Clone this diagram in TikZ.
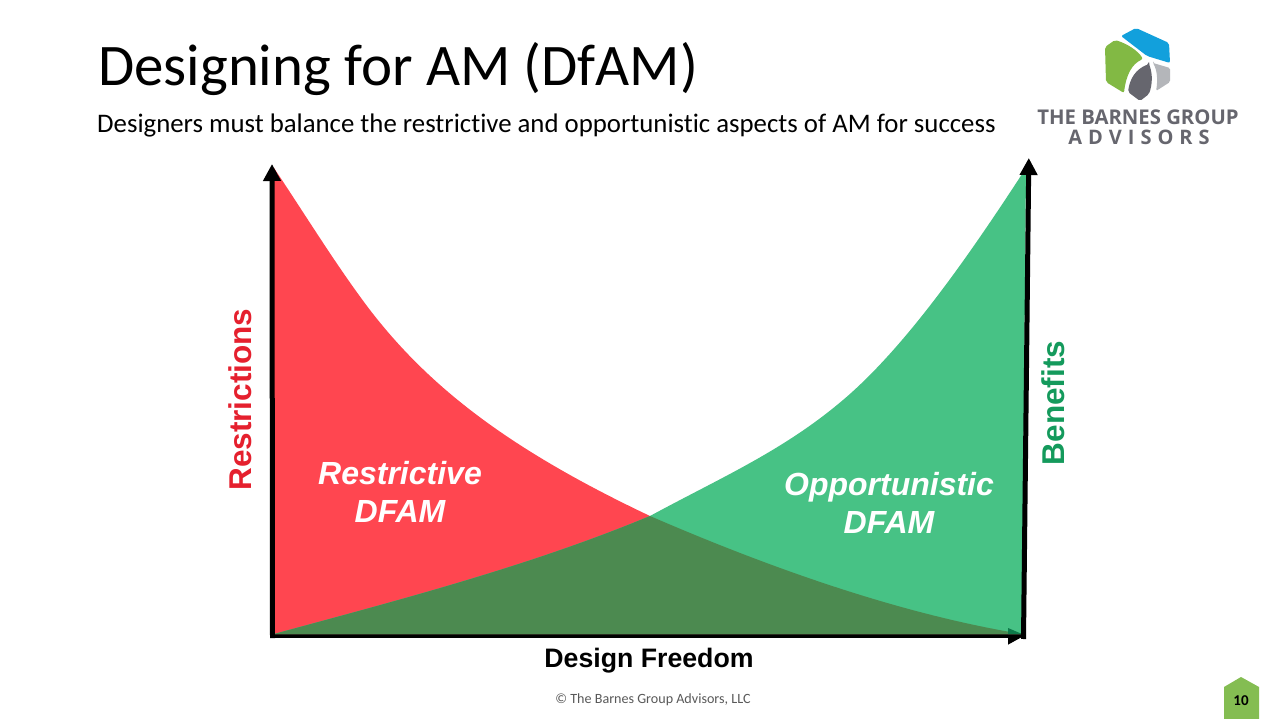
\documentclass[tikz,border=0pt]{standalone}
\usepackage{fontspec}
\setmainfont[Ligatures=NoCommon]{Carlito}
\newfontfamily\arialf{Liberation Sans}
\newfontfamily\logof{Open Sans}
\usetikzlibrary{arrows.meta}
\definecolor{redfill}{HTML}{FF4650}
\definecolor{greenfill}{HTML}{47C285}
\definecolor{overlapfill}{HTML}{4C8A50}
\definecolor{headgreen}{HTML}{0E7A4A}
\definecolor{redtext}{HTML}{E5202E}
\definecolor{greentext}{HTML}{149A5C}
\definecolor{logoblue}{HTML}{12A0DC}
\definecolor{logogreen}{HTML}{82B944}
\definecolor{logodark}{HTML}{66666E}
\definecolor{logogrey}{HTML}{B4B6BA}
\definecolor{pagegreen}{HTML}{84BD52}
\tikzset{
  axisline/.style={line width=5pt,black,-{Triangle[length=17pt,width=17pt]}},
  regionlabel/.style={font=\arialf\bfseries\itshape\fontsize{32pt}{38pt}\selectfont,text=white,align=center,inner sep=0pt},
  axislabel/.style={font=\arialf\bfseries\fontsize{26.7pt}{26.7pt}\selectfont,inner sep=0pt},
  sidelabel/.style={font=\arialf\bfseries\fontsize{31.5pt}{31.5pt}\selectfont,inner sep=0pt,rotate=90},
}
\begin{document}
\begin{tikzpicture}[x=1pt,y=-1pt]
\useasboundingbox (0,0) rectangle (1280,719);
\fill[white] (0,0) rectangle (1280,719);
\coordinate (rtop) at (274,168);
\coordinate (rmid) at (370,310);
\coordinate (cross) at (650,516);
\coordinate (rend) at (1022,634);
\coordinate (gstart) at (274,634);
\coordinate (gmid) at (843,400);
\coordinate (gtop) at (1026,168);
\coordinate (origin) at (272,634);
\coordinate (xstart) at (270,635.5);
\coordinate (xend) at (1025,635.5);
\coordinate (ystart) at (272.5,638);
\coordinate (yend) at (272,164);
\coordinate (zstart) at (1023.5,639);
\coordinate (zend) at (1028.8,158);
% x axis lies under the regions
\draw[axisline] (xstart) -- (xend);
% regions
\fill[redfill] (rtop) .. controls (306,216) and (338,268) .. (rmid)
  .. controls (433,392) and (517,453) .. (cross)
  .. controls (770,568) and (900,614) .. (rend) -- (origin) -- cycle;
\fill[greenfill] (gstart) .. controls (399,600) and (530,566) .. (cross)
  .. controls (720,478) and (783,451) .. (gmid)
  .. controls (908,345) and (974,248) .. (gtop) -- (rend) -- cycle;
\fill[overlapfill] (gstart) .. controls (399,600) and (530,566) .. (cross)
  .. controls (770,568) and (900,614) .. (rend) -- cycle;
\fill[headgreen] (1008,628) -- (1022,634) -- (1008,634) -- cycle;
% axes
\draw[axisline] (ystart) -- (yend);
\draw[axisline] (zstart) -- (zend);
% text
\node[anchor=base west,inner sep=0pt,font=\fontsize{58.9pt}{58.9pt}\selectfont] (title) at (98,86) {Designing for AM (DfAM)};
\node[anchor=base west,inner sep=0pt,font=\fontsize{26.8pt}{26.8pt}\selectfont] (subtitle) at (97,133) {Designers must balance the restrictive and opportunistic aspects of AM for success};
\node[regionlabel] (rlabel) at (400,492) {Restrictive\\DFAM};
\node[regionlabel] (olabel) at (889,503) {Opportunistic\\DFAM};
\node[axislabel,text=black] (xlabel) at (649,661) {Design Freedom};
\node[sidelabel,text=redtext] (ylabel) at (240,399.5) {Restrictions};
\node[sidelabel,text=greentext] (zlabel) at (1053,403) {Benefits};
\node[inner sep=0pt,text=black!65,font=\fontsize{14.1pt}{14.1pt}\selectfont] (copy) at (653,700) {© The Barnes Group Advisors, LLC};
% page badge
\fill[pagegreen] (1224,719) -- (1224,687) -- (1241,677) -- (1259,687) -- (1259,719) -- cycle;
\node[inner sep=0pt,font=\bfseries\fontsize{15pt}{15pt}\selectfont,text=black] (page) at (1241,701) {10};
% logo
\fill[logoblue,rounded corners=2pt] (1121,36) -- (1136,28) -- (1169,43) -- (1170,63) -- (1147,56) -- cycle;
\fill[logogreen,rounded corners=2pt] (1105,47) -- (1115,40) .. controls (1128,44) and (1138,51) .. (1143,59)
  .. controls (1132,64) and (1126,75) .. (1124,93) -- (1106,82) -- cycle;
\fill[logodark,rounded corners=2pt] (1149,64) .. controls (1136,69) and (1130,78) .. (1128,92)
  -- (1140,101) -- (1149,94) .. controls (1152,85) and (1153,75) .. (1149,64) -- cycle;
\fill[logogrey,rounded corners=1.5pt] (1153,63) -- (1170,68) -- (1170,82) -- (1156,91) .. controls (1158,80) and (1157,70) .. (1153,63) -- cycle;
\node[inner sep=0pt,anchor=base,font=\logof\fontsize{20.3pt}{20.3pt}\selectfont\bfseries,text=logodark] (logo1) at (1138,125) {THE BARNES GROUP};
\node[inner sep=0pt,anchor=base,font=\logof\fontsize{20pt}{20pt}\selectfont\bfseries,text=logodark] (logo2) at (1139,145) {A\hspace{.3em}D\hspace{.3em}V\hspace{.3em}I\hspace{.3em}S\hspace{.3em}O\hspace{.3em}R\hspace{.3em}S};
\end{tikzpicture}
\end{document}
